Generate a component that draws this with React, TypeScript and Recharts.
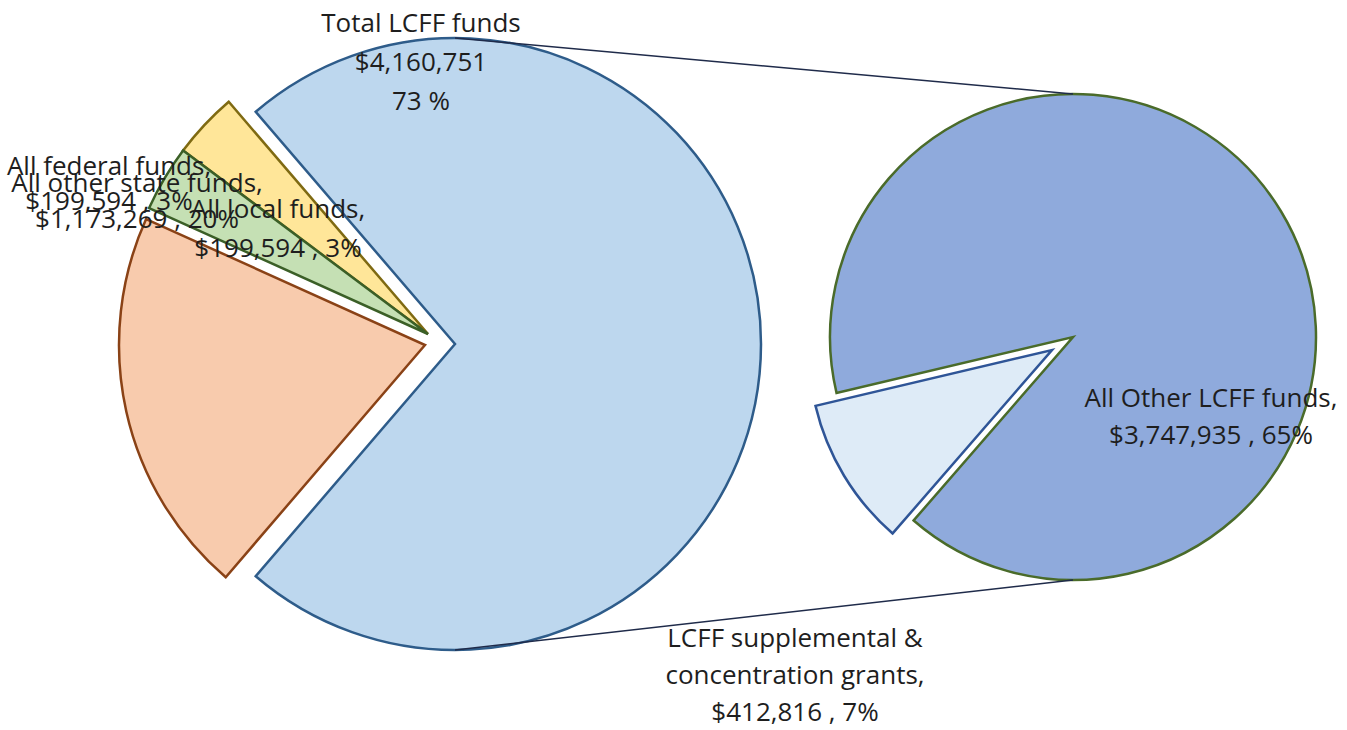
import { PieChart, Pie, Cell } from 'recharts';

// primary pie (all funds)
const LEFT_NAMES = ['Total LCFF funds', 'All federal funds', 'All local funds', 'All other state funds'];
const LEFT_VALUES = [4160751, 199594, 199594, 1173269];
// secondary pie (split of Total LCFF funds)
const RIGHT_NAMES = ['LCFF supplemental &\nconcentration grants', 'All Other LCFF funds'];
const RIGHT_VALUES = [412816, 3747935];

const LEFT_FILLS = ['#BDD7EE', '#FFE699', '#C5E0B4', '#F8CBAD'];
const LEFT_STROKES = ['#2E5C8A', '#7F6A12', '#3B5F27', '#8A4216'];
const RIGHT_FILLS = ['#DEEBF7', '#8FAADC'];
const RIGHT_STROKES = ['#2F5597', '#4A6B2A'];

const W = 1347;
const H = 730;
const LEFT = { cx: 455, cy: 344, r: 306 };
const RIGHT = { cx: 1073, cy: 337, r: 243 };
// explosion offsets [dx, dy] per slice
const LEFT_OFFSETS = [[0, 0], [-27, -10], [-27, -10], [-30, 1]];
const RIGHT_OFFSETS = [[-21, 13], [0, 0]];
const RIGHT_START = 193.3;

const LEFT_LABEL_POS = [
  { x: 421, y: 32, lh: 39 },
  { x: 109, y: 175, lh: 35 },
  { x: 278, y: 218, lh: 39 },
  { x: 137, y: 192, lh: 36 },
];
const RIGHT_LABEL_POS = [
  { x: 795, y: 647, lh: 37 },
  { x: 1211, y: 407, lh: 37 },
];

const FONT = '"Open Sans", sans-serif';
const FONT_SIZE = 26;
const TEXT_COLOR = '#1e1e1e';

const leftData = LEFT_NAMES.map((name, i) => ({ name, value: LEFT_VALUES[i] }));
const rightData = RIGHT_NAMES.map((name, i) => ({ name, value: RIGHT_VALUES[i] }));
const total = LEFT_VALUES.reduce((a, b) => a + b, 0);
// "other" slice centred on the right side
const leftStart = -(LEFT_VALUES[0] / total) * 180;

const money = (v: number) => '$' + v.toLocaleString('en-US');
const pct = (v: number) => Math.round((v / total) * 100);

function labelLines(name: string, value: number, idx: number, isLeft: boolean) {
  if (isLeft && idx === 0) return [name, money(value), `${pct(value)} %`];
  const parts = name.split('\n');
  parts[parts.length - 1] += ',';
  return [...parts, `${money(value)} , ${pct(value)}%`];
}

function Label({ x, y, lh, lines }: { x: number; y: number; lh: number; lines: string[] }) {
  return (
    <text x={x} y={y} textAnchor="middle" fontFamily={FONT} fontSize={FONT_SIZE} fill={TEXT_COLOR}>
      {lines.map((l, i) => (
        <tspan key={i} x={x} dy={i === 0 ? 0 : lh}>
          {l}
        </tspan>
      ))}
    </text>
  );
}

export default function App() {
  return (
    <div style={{ position: 'relative', width: W, height: H, background: '#fff' }}>
      <style>{'body{margin:0}'}</style>
      <PieChart width={W} height={H} margin={{ top: 0, right: 0, bottom: 0, left: 0 }}>
        {LEFT_OFFSETS.map(([dx, dy], s) => (
          <Pie
            key={`l${s}`}
            data={leftData}
            dataKey="value"
            cx={LEFT.cx + dx}
            cy={LEFT.cy + dy}
            outerRadius={LEFT.r}
            startAngle={leftStart}
            endAngle={leftStart + 360}
            isAnimationActive={false}
          >
            {leftData.map((_, i) => (
              <Cell
                key={i}
                fill={i === s ? LEFT_FILLS[i] : 'none'}
                stroke={i === s ? LEFT_STROKES[i] : 'none'}
                strokeWidth={2.5}
              />
            ))}
          </Pie>
        ))}
        {RIGHT_OFFSETS.map(([dx, dy], s) => (
          <Pie
            key={`r${s}`}
            data={rightData}
            dataKey="value"
            cx={RIGHT.cx + dx}
            cy={RIGHT.cy + dy}
            outerRadius={RIGHT.r}
            startAngle={RIGHT_START}
            endAngle={RIGHT_START + 360}
            isAnimationActive={false}
          >
            {rightData.map((_, i) => (
              <Cell
                key={i}
                fill={i === s ? RIGHT_FILLS[i] : 'none'}
                stroke={i === s ? RIGHT_STROKES[i] : 'none'}
                strokeWidth={2.5}
              />
            ))}
          </Pie>
        ))}
      </PieChart>
      {/* series lines and data labels drawn above the slices */}
      <svg width={W} height={H} style={{ position: 'absolute', left: 0, top: 0, pointerEvents: 'none' }}>
        <line x1={LEFT.cx} y1={LEFT.cy - LEFT.r} x2={RIGHT.cx} y2={RIGHT.cy - RIGHT.r} stroke="#1F2B4A" strokeWidth={1.5} />
        <line x1={LEFT.cx} y1={LEFT.cy + LEFT.r} x2={RIGHT.cx} y2={RIGHT.cy + RIGHT.r} stroke="#1F2B4A" strokeWidth={1.5} />
        {[0, 1, 3, 2].map((i) => (
          <Label key={`ll${i}`} {...LEFT_LABEL_POS[i]} lines={labelLines(LEFT_NAMES[i], LEFT_VALUES[i], i, true)} />
        ))}
        {rightData.map((d, i) => (
          <Label key={`rl${i}`} {...RIGHT_LABEL_POS[i]} lines={labelLines(d.name, d.value, i, false)} />
        ))}
      </svg>
    </div>
  );
}
